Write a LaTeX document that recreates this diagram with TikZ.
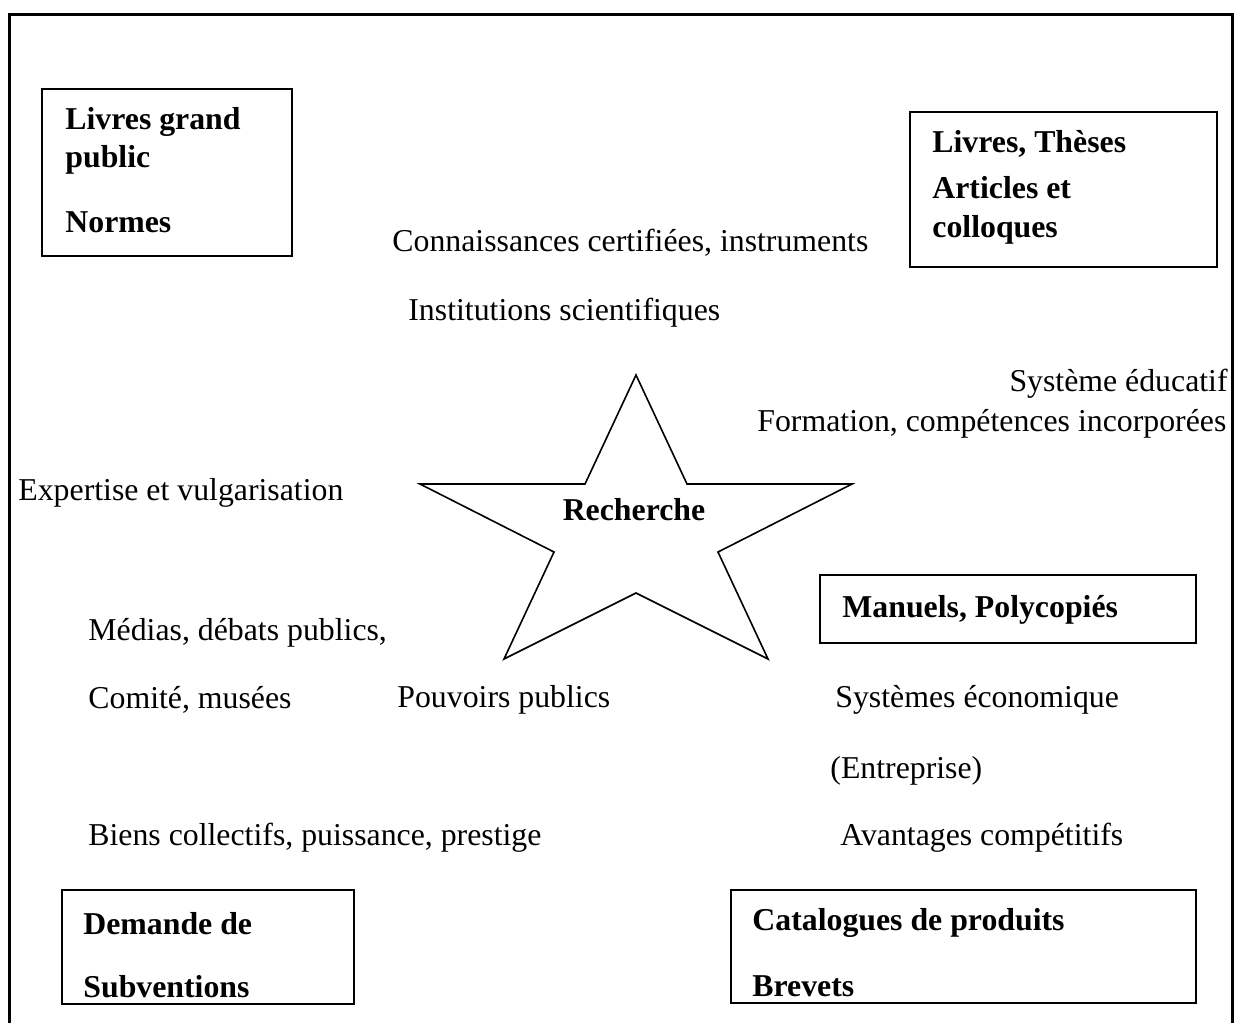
\documentclass[tikz,border=0pt]{standalone}
\usepackage{fontspec}
\setmainfont{Liberation Serif}
\usepackage{tikz}

\tikzset{
  lbl/.style={anchor=west, inner sep=0pt, yshift=-1.2pt, font=\fontsize{15.9}{19}\selectfont},
  blbl/.style={lbl, font=\fontsize{15.9}{19}\selectfont\bfseries},
  boite/.style={line width=1pt}
}

\begin{document}
\begin{tikzpicture}[x=0.5pt,y=-0.5pt]
\useasboundingbox (0,0) rectangle (1240,1023);
% cadre
\draw[line width=1.5pt] (9,1023) -- (9,14) -- (1232,14) -- (1232,1023);

% boites
\draw[boite] (42,89) rectangle (292,256);
\draw[boite] (910,112) rectangle (1217,267);
\draw[boite] (820,575) rectangle (1196,643);
\draw[boite] (62,890) rectangle (354,1004);
\draw[boite] (731,890) rectangle (1196,1003);

% etoile
\draw[line width=0.8pt, line join=miter]
  (636,375) -- (687,484) -- (852,484) -- (718,552) -- (768,659)
  -- (636,593) -- (504,659) -- (554,552) -- (420,484) -- (585,484) -- cycle;
\node[blbl, anchor=center] (rech) at (634,507) {Recherche};

\node[blbl] (lgp1) at (65,120) {Livres grand};
\node[blbl] (lgp2) at (65,157) {public};
\node[blbl] (norm) at (65,220) {Normes};

\node[blbl] (these) at (932,142) {Livres, Thèses};
\node[blbl] (art) at (932,185) {Articles et};
\node[blbl] (coll) at (932,227) {colloques};

\node[lbl] (conn) at (392,240) {Connaissances certifiées, instruments};
\node[lbl] (inst) at (408,310) {Institutions scientifiques};
\node[lbl, anchor=east] (educ) at (1228,381) {Système éducatif};
\node[lbl] (form) at (757,421) {Formation, compétences incorporées};
\node[lbl] (expe) at (18,490) {Expertise et vulgarisation};

\node[blbl] (manu) at (842,607) {Manuels, Polycopiés};
\node[lbl] (medi) at (88,630) {Médias, débats publics,};
\node[lbl] (comi) at (88,697) {Comité, musées};
\node[lbl] (pouv) at (397,697) {Pouvoirs publics};
\node[lbl] (syst) at (835,697) {Systèmes économique};
\node[lbl] (entr) at (830,768) {(Entreprise)};
\node[lbl] (bien) at (88,835) {Biens collectifs, puissance, prestige};
\node[lbl] (avan) at (840,835) {Avantages compétitifs};

\node[blbl] (dem) at (83,921) {Demande de};
\node[blbl] (subv) at (83,984) {Subventions};
\node[blbl] (cata) at (752,921) {Catalogues de produits};
\node[blbl] (brev) at (752,984) {Brevets};
\end{tikzpicture}
\end{document}
